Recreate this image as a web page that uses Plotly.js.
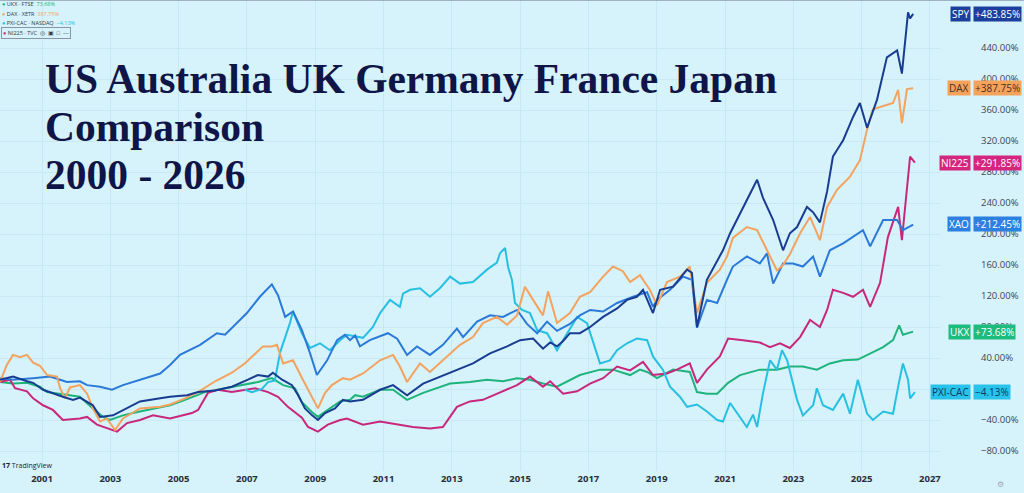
<!DOCTYPE html>
<html>
<head>
<meta charset="utf-8">
<script src="https://cdn.plot.ly/plotly-3.0.1.min.js"></script>
<style>
html,body{margin:0;padding:0;background:#d6f2fb;}
#chart{width:1024px;height:493px;}
</style>
</head>
<body>
<div id="chart"></div>
<script>
// ---- data (decimal year, % change) ----
const yearTicks = [2001,2003,2005,2007,2009,2011,2013,2015,2017,2019,2021,2023,2025,2027];
const pctTicks = [-80,-40,0,40,80,120,160,200,240,280,320,360,400,440];

const spy = [[1999.77,12],[2000.15,16],[2000.56,10],[2000.74,8],[2001.03,-1],[2001.32,-6],[2001.61,-10],[2001.91,-14],[2002.11,-11],[2002.49,-21],[2002.70,-36],[2003.08,-34],[2003.49,-25],[2003.87,-16],[2004.46,-12],[2004.75,-10],[2005.25,-8],[2005.57,-4],[2006.07,-2],[2006.56,3],[2007.03,12],[2007.32,18],[2007.62,16],[2007.76,21],[2008.03,12],[2008.32,5],[2008.50,-8],[2008.70,-25],[2008.91,-34],[2009.08,-40],[2009.29,-31],[2009.58,-25],[2009.81,-14],[2010.02,-16],[2010.40,-14],[2010.90,-1],[2011.28,5],[2011.69,-8],[2012.16,7],[2012.65,16],[2013.15,25],[2013.62,33],[2014.12,46],[2014.62,55],[2015.00,63],[2015.38,65],[2015.67,52],[2015.88,60],[2016.08,55],[2016.26,62],[2016.46,72],[2016.75,72],[2017.05,80],[2017.43,93],[2017.84,104],[2018.13,115],[2018.42,119],[2018.60,128],[2018.89,98],[2019.10,128],[2019.48,132],[2019.89,154],[2020.03,150],[2020.18,80],[2020.47,141],[2020.77,166],[2020.94,179],[2021.15,201],[2021.44,226],[2021.73,251],[2021.94,270],[2022.11,247],[2022.41,218],[2022.70,179],[2022.90,201],[2023.11,209],[2023.40,235],[2023.58,228],[2023.78,215],[2023.99,255],[2024.16,300],[2024.46,321],[2024.75,351],[2024.95,369],[2025.16,337],[2025.45,373],[2025.74,428],[2026.04,437],[2026.18,407],[2026.36,486],[2026.42,478],[2026.51,484]];

const xao = [[1999.77,14],[2000.15,12],[2000.74,14],[2001.23,16],[2001.53,12],[2001.73,9],[2002.11,10],[2002.32,5],[2002.70,3],[2003.05,-1],[2003.37,5],[2003.66,9],[2004.07,14],[2004.46,20],[2004.75,31],[2005.04,44],[2005.63,57],[2006.12,72],[2006.36,70],[2006.59,80],[2007.00,98],[2007.38,119],[2007.73,135],[2007.91,121],[2008.12,93],[2008.35,100],[2008.61,76],[2008.85,46],[2009.05,18],[2009.35,37],[2009.64,63],[2009.87,70],[2010.02,63],[2010.17,69],[2010.31,55],[2010.60,63],[2011.13,72],[2011.40,65],[2011.69,44],[2011.98,55],[2012.36,44],[2012.74,57],[2013.15,78],[2013.33,67],[2013.74,87],[2014.12,95],[2014.50,93],[2014.91,102],[2015.20,84],[2015.50,72],[2015.79,87],[2016.08,75],[2016.46,84],[2016.75,95],[2017.05,102],[2017.43,100],[2017.84,111],[2018.31,119],[2018.72,125],[2018.89,106],[2019.01,115],[2019.39,128],[2019.77,145],[2020.03,141],[2020.18,79],[2020.47,115],[2020.77,111],[2021.06,141],[2021.23,158],[2021.64,171],[2022.02,162],[2022.23,175],[2022.41,136],[2022.70,162],[2022.99,162],[2023.28,158],[2023.58,171],[2023.78,145],[2024.07,179],[2024.46,188],[2024.75,196],[2025.04,205],[2025.25,184],[2025.63,218],[2026.04,218],[2026.21,205],[2026.51,212]];

const dax = [[1999.77,9],[1999.97,31],[2000.15,44],[2000.36,41],[2000.56,44],[2000.74,34],[2000.94,30],[2001.15,18],[2001.44,16],[2001.53,1],[2001.67,-12],[2001.82,2],[2002.11,5],[2002.32,-6],[2002.49,-25],[2002.70,-42],[2002.90,-38],[2003.14,-53],[2003.37,-38],[2003.64,-31],[2003.87,-25],[2004.46,-23],[2004.75,-20],[2005.19,-12],[2005.57,-4],[2006.07,10],[2006.56,21],[2006.94,33],[2007.24,46],[2007.47,55],[2007.73,55],[2007.88,57],[2008.06,33],[2008.35,37],[2008.64,12],[2008.91,-10],[2009.08,-25],[2009.29,-5],[2009.49,5],[2009.81,14],[2010.02,12],[2010.40,20],[2010.90,37],[2011.28,44],[2011.48,29],[2011.69,9],[2012.07,33],[2012.36,22],[2012.74,37],[2013.24,57],[2013.62,67],[2013.91,85],[2014.32,93],[2014.62,83],[2014.91,95],[2015.14,132],[2015.38,115],[2015.67,95],[2015.82,126],[2016.08,85],[2016.46,98],[2016.75,119],[2017.05,125],[2017.43,145],[2017.72,158],[2018.01,152],[2018.22,138],[2018.51,147],[2018.80,128],[2019.01,108],[2019.30,138],[2019.68,145],[2019.97,158],[2020.18,98],[2020.47,137],[2020.85,154],[2021.06,171],[2021.23,195],[2021.64,209],[2021.94,205],[2022.23,179],[2022.52,153],[2022.70,160],[2022.90,174],[2023.20,201],[2023.49,222],[2023.78,192],[2023.99,235],[2024.28,257],[2024.66,274],[2024.95,295],[2025.16,335],[2025.33,361],[2025.63,365],[2025.92,369],[2026.07,386],[2026.18,343],[2026.33,387],[2026.51,388]];

const ni225 = [[1999.77,9],[2000.06,12],[2000.21,1],[2000.56,-3],[2000.74,-12],[2001.03,-21],[2001.32,-27],[2001.61,-40],[2002.11,-38],[2002.32,-36],[2002.61,-46],[2002.90,-50],[2003.20,-55],[2003.49,-44],[2003.87,-40],[2004.25,-34],[2004.75,-38],[2005.39,-31],[2005.57,-27],[2005.86,-5],[2006.15,-1],[2006.56,-4],[2007.24,1],[2007.62,-4],[2007.91,-10],[2008.20,-23],[2008.61,-37],[2008.79,-49],[2009.08,-55],[2009.37,-46],[2009.73,-40],[2009.93,-38],[2010.40,-46],[2010.90,-42],[2011.40,-46],[2011.86,-49],[2012.36,-51],[2012.74,-49],[2013.15,-23],[2013.53,-16],[2013.91,-14],[2014.50,-3],[2014.91,5],[2015.29,16],[2015.67,3],[2015.88,10],[2016.26,-6],[2016.67,-3],[2017.05,7],[2017.43,14],[2017.84,29],[2018.22,24],[2018.60,35],[2018.89,18],[2019.30,20],[2019.59,25],[2019.97,33],[2020.18,8],[2020.47,25],[2020.85,42],[2021.09,65],[2021.53,63],[2022.02,60],[2022.32,54],[2022.61,59],[2022.90,53],[2023.20,67],[2023.49,89],[2023.78,80],[2023.99,102],[2024.16,128],[2024.46,124],[2024.75,119],[2025.04,128],[2025.25,106],[2025.54,137],[2025.77,196],[2026.07,235],[2026.18,192],[2026.42,300],[2026.56,292]];

const ukx = [[1999.77,9],[2000.15,7],[2000.56,8],[2000.94,3],[2001.15,-4],[2001.73,-8],[2002.11,-10],[2002.49,-25],[2002.79,-36],[2002.99,-40],[2003.37,-34],[2003.87,-29],[2004.37,-25],[2004.75,-21],[2005.19,-14],[2005.77,-4],[2006.36,1],[2006.86,5],[2007.32,9],[2007.73,14],[2008.06,5],[2008.41,1],[2008.61,-17],[2008.91,-30],[2009.08,-36],[2009.37,-27],[2009.73,-16],[2010.02,-14],[2010.17,-8],[2010.40,-10],[2010.90,-1],[2011.28,-1],[2011.69,-14],[2012.16,-5],[2012.57,1],[2012.95,7],[2013.53,9],[2014.03,12],[2014.50,10],[2014.91,14],[2015.29,12],[2015.67,7],[2016.08,3],[2016.75,18],[2017.34,25],[2017.72,25],[2018.22,18],[2018.51,25],[2018.72,22],[2019.01,14],[2019.48,25],[2019.97,22],[2020.18,-4],[2020.47,-6],[2020.77,-6],[2021.09,8],[2021.44,18],[2022.02,25],[2022.52,25],[2022.90,29],[2023.28,29],[2023.69,25],[2024.07,33],[2024.46,37],[2024.89,38],[2025.25,46],[2025.63,54],[2025.92,63],[2026.10,82],[2026.21,70],[2026.51,74]];

const cac = [[2006.94,-1],[2007.15,-4],[2007.44,0],[2007.62,9],[2007.82,11],[2007.91,31],[2007.97,47],[2008.26,85],[2008.35,100],[2008.61,72],[2008.85,53],[2009.14,59],[2009.43,50],[2009.73,63],[2009.93,70],[2010.40,66],[2010.69,80],[2010.90,98],[2011.19,115],[2011.48,106],[2011.57,123],[2011.78,128],[2012.07,130],[2012.36,119],[2012.65,130],[2012.95,145],[2013.24,136],[2013.62,138],[2014.03,154],[2014.32,163],[2014.41,175],[2014.56,182],[2014.65,157],[2014.76,141],[2014.85,111],[2015.06,102],[2015.29,98],[2015.50,76],[2015.79,72],[2016.08,50],[2016.37,72],[2016.67,93],[2016.96,85],[2017.13,63],[2017.34,33],[2017.63,37],[2017.84,50],[2018.13,59],[2018.42,65],[2018.72,63],[2018.89,42],[2019.18,25],[2019.39,3],[2019.68,-10],[2019.89,-23],[2020.18,-20],[2020.47,-29],[2020.77,-40],[2020.94,-42],[2021.15,-18],[2021.35,-31],[2021.64,-49],[2021.82,-33],[2021.94,-49],[2022.11,-6],[2022.32,37],[2022.52,25],[2022.67,50],[2022.82,37],[2023.11,-14],[2023.28,-34],[2023.58,-21],[2023.69,1],[2023.87,-21],[2024.16,-27],[2024.46,-6],[2024.66,-32],[2024.89,12],[2025.16,-32],[2025.33,-40],[2025.63,-29],[2025.92,-32],[2026.07,3],[2026.21,33],[2026.36,12],[2026.42,-12],[2026.56,-4]];

const seriesNames = ['UKX','NI225','PXI-CAC','XAO','DAX','SPY'];
const seriesData = [ukx, ni225, cac, xao, dax, spy];
const seriesColors = ['#1fb47b','#c8287c','#27c0e2','#2b79d8','#f4a35e','#183c90'];

const boxNames = ['SPY','DAX','NI225','XAO','UKX','PXI-CAC'];
const boxValues = [483.85, 387.75, 291.85, 212.45, 73.68, -4.13];
const boxTexts = ['+483.85%','+387.75%','+291.85%','+212.45%','+73.68%','\u22124.13%'];
const boxBg = ['#1c3f9b','#f5a25c','#d4267f','#2d7fe0','#1dbb7e','#29c2ea'];
const boxFg = ['#ffffff','#4a3020','#ffffff','#ffffff','#ffffff','#0d3a60'];

const titleLines = ['US Australia UK Germany France Japan','Comparison','2000 - 2026'];

const legendRows = [
  ['UKX \u00b7 FTSE', '73.68%', '#1fb47b'],
  ['DAX \u00b7 XETR', '387.75%', '#f4a35e'],
  ['PXI-CAC \u00b7 NASDAQ', '\u22124.13%', '#27c0e2'],
  ['NI225 \u00b7 TVC', '', '#c8287c']
];

// ---- geometry helpers ----
const W = 1024, H = 493;
const M = {l:0, r:84, t:0, b:22};
const PW = W - M.l - M.r, PH = H - M.t - M.b;
const px2x = p => (p - M.l) / PW;
const py2y = p => 1 - (p - M.t) / PH;

const traces = seriesData.map((d, i) => ({
  type: 'scatter', mode: 'lines', name: seriesNames[i],
  x: d.map(p => p[0]), y: d.map(p => p[1]),
  line: {color: seriesColors[i], width: 2},
  hoverinfo: 'skip'
}));

const annotations = [];
// right-side value boxes
boxNames.forEach((n, i) => {
  annotations.push({
    xref: 'paper', yref: 'y', x: px2x(971.5), y: boxValues[i], xanchor: 'right', yanchor: 'middle',
    text: n, showarrow: false, bgcolor: boxBg[i], borderpad: 1, height: 12,
    font: {family: 'Open Sans', size: 10, color: boxFg[i]}
  });
  annotations.push({
    xref: 'paper', yref: 'y', x: px2x(972.5), y: boxValues[i], xanchor: 'left', yanchor: 'middle',
    text: boxTexts[i], showarrow: false, bgcolor: boxBg[i], borderpad: 1, height: 12,
    font: {family: 'Open Sans', size: 10, color: boxFg[i]}
  });
});
// title
const titleCenters = [79, 127, 175];
titleLines.forEach((t, i) => {
  annotations.push({
    xref: 'paper', yref: 'paper', x: px2x(43), y: py2y(titleCenters[i]), xanchor: 'left', yanchor: 'middle',
    text: '<b>' + t + '</b>', showarrow: false,
    font: {family: 'Liberation Serif', size: 41.5, color: '#0f1547'}
  });
});
// top-left legend rows
const rowY = [4, 14, 23, 33];
legendRows.forEach((r, i) => {
  annotations.push({
    xref: 'paper', yref: 'paper', x: px2x(1), y: py2y(rowY[i]), xanchor: 'left', yanchor: 'middle',
    text: '<span style="color:' + r[2] + '">\u25cf</span> ' + r[0] + (r[1] ? '  <span style="color:' + r[2] + '">' + r[1] + '</span>' : '  \u25ce  \u25a3  \u25a1  \u22ef'),
    showarrow: false, font: {family: 'Open Sans', size: 5.5, color: '#333a48'},
    bordercolor: i === 3 ? '#8a94a6' : 'rgba(0,0,0,0)', borderwidth: i === 3 ? 1 : 0, borderpad: 1
  });
});
// TradingView logo
annotations.push({
  xref: 'paper', yref: 'paper', x: px2x(0), y: py2y(465), xanchor: 'left', yanchor: 'middle',
  text: '<b>17</b> TradingView', showarrow: false,
  font: {family: 'Open Sans', size: 7, color: '#1e2230'}
});
// settings glyph bottom right
annotations.push({
  xref: 'paper', yref: 'paper', x: px2x(1000), y: py2y(484), xanchor: 'center', yanchor: 'middle',
  text: '\u2699', showarrow: false, font: {family: 'DejaVu Sans', size: 8, color: '#a0a8b4'}
});

// tick labels: the 0% label sits fully behind the PXI-CAC box in the reference
const pctText = pctTicks.map(v => v === 0 ? '' : (v < 0 ? '\u2212' : '') + Math.abs(v).toFixed(2) + '%');

const layout = {
  width: W, height: H,
  margin: M,
  paper_bgcolor: '#d6f2fb', plot_bgcolor: '#d6f2fb',
  showlegend: false,
  xaxis: {
    range: [1999.77, 1999.77 + PW / 34.15],
    tickmode: 'array', tickvals: yearTicks, ticktext: yearTicks.map(String),
    showgrid: true, gridcolor: '#c8e8f3', gridwidth: 1,
    zeroline: false, showline: false, ticks: '',
    tickfont: {family: 'Open Sans', size: 9.5, color: '#2a2e39', weight: 700},
    fixedrange: true
  },
  yaxis: {
    side: 'right',
    range: [(389 - (H - M.b)) / 0.775, 389 / 0.775],
    tickmode: 'array', tickvals: pctTicks, ticktext: pctText,
    showgrid: true, gridcolor: '#c8e8f3', gridwidth: 1,
    zeroline: false, showline: false, ticks: '',
    ticklabelstandoff: 40,
    tickfont: {family: 'Open Sans', size: 9.5, color: '#3a4556'},
    fixedrange: true
  },
  annotations: annotations,
  shapes: [{type: 'line', xref: 'paper', yref: 'paper', x0: 0, x1: W / PW, y0: 1, y1: 1,
            line: {color: '#6b7280', width: 1}}]
};

Plotly.newPlot('chart', traces, layout, {staticPlot: true, displayModeBar: false});
</script>
</body>
</html>
